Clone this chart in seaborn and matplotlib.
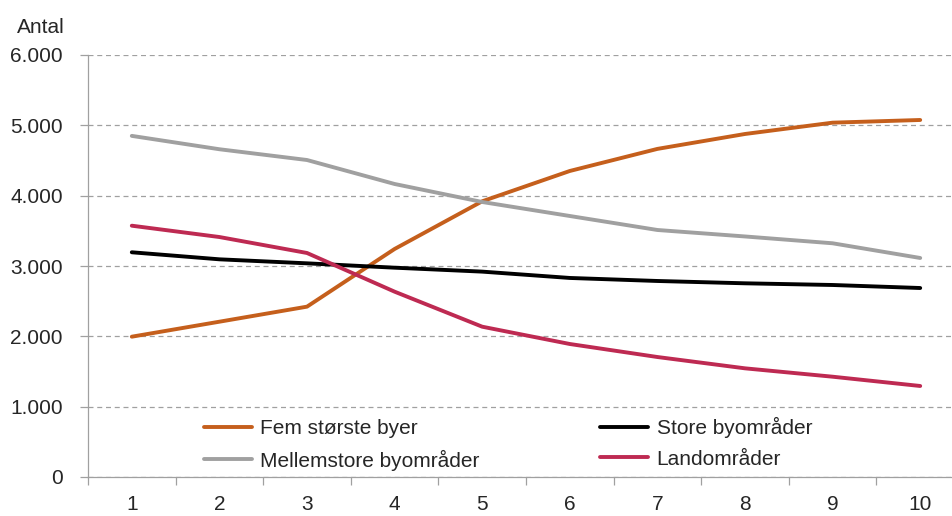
import pandas as pd
import matplotlib.pyplot as plt
from matplotlib.ticker import FuncFormatter, FixedLocator
import seaborn as sns

years = list(range(1, 11))
fem_storste = [1995, 2208, 2422, 3242, 3920, 4351, 4665, 4877, 5038, 5076]
mellemstore = [4850, 4660, 4507, 4166, 3910, 3711, 3512, 3420, 3323, 3114]
store_by = [3195, 3095, 3038, 2976, 2920, 2830, 2787, 2754, 2730, 2687]
land = [3573, 3412, 3185, 2635, 2137, 1891, 1706, 1545, 1426, 1294]

series = ["Fem største byer", "Mellemstore byområder", "Store byområder", "Landområder"]
values = [fem_storste, mellemstore, store_by, land]
palette = {"Fem største byer": "#C55F1C", "Mellemstore byområder": "#A0A0A0",
           "Store byområder": "#000000", "Landområder": "#BE2A52"}

df = pd.concat([pd.DataFrame({"x": years, "Antal": v, "Serie": s}) for s, v in zip(series, values)],
               ignore_index=True)

sns.set_style("white")
plt.rcParams['font.family'] = ['Liberation Sans', 'DejaVu Sans']
plt.rcParams['font.size'] = 15

fig = plt.figure(figsize=(9.53, 5.16), dpi=100)
ax = fig.add_axes([88 / 953, 1 - 477 / 516, 876 / 953, 422 / 516])

sns.lineplot(data=df, x="x", y="Antal", hue="Serie", hue_order=series, palette=palette,
             linewidth=2.8, ax=ax, legend=True)

ax.set_xlim(0.5, 10.5)
ax.set_ylim(0, 6000)
ax.set_yticks(range(0, 6001, 1000))
ax.yaxis.set_major_formatter(FuncFormatter(lambda v, p: f"{int(v):,}".replace(",", ".")))
ax.set_xticks(years)
ax.xaxis.set_minor_locator(FixedLocator([i + 0.5 for i in range(0, 11)]))
ax.tick_params(axis="x", which="major", bottom=True, length=0, pad=13, labelsize=15)
ax.tick_params(axis="x", which="minor", bottom=True, length=6, width=0.9, color="#A0A0A0", direction="out")
ax.tick_params(axis="y", left=True, length=6, width=0.9, color="#A0A0A0", pad=12, labelsize=15, direction="out")
ax.set_xlabel("")
ax.set_ylabel("")

ax.yaxis.grid(True, linestyle=(0, (4, 3)), color="#A0A0A0", linewidth=0.9)
ax.xaxis.grid(False)
for side in ["top", "right"]:
    ax.spines[side].set_visible(False)
for side in ["left", "bottom"]:
    ax.spines[side].set_color("#A0A0A0")
    ax.spines[side].set_linewidth(0.9)

handles, labels = ax.get_legend_handles_labels()
ax.legend(handles, labels, ncol=2, frameon=False, loc="center left",
          bbox_to_anchor=(204 / 953, 1 - 444 / 516), bbox_transform=fig.transFigure,
          borderpad=0, borderaxespad=0, handlelength=2.3, handletextpad=0.4,
          columnspacing=5.8, labelspacing=0.55, fontsize=15)

fig.text(17 / 953, 1 - 33 / 516, "Antal", ha="left", va="baseline", fontsize=15)

fig.savefig("out.png", dpi=100)
